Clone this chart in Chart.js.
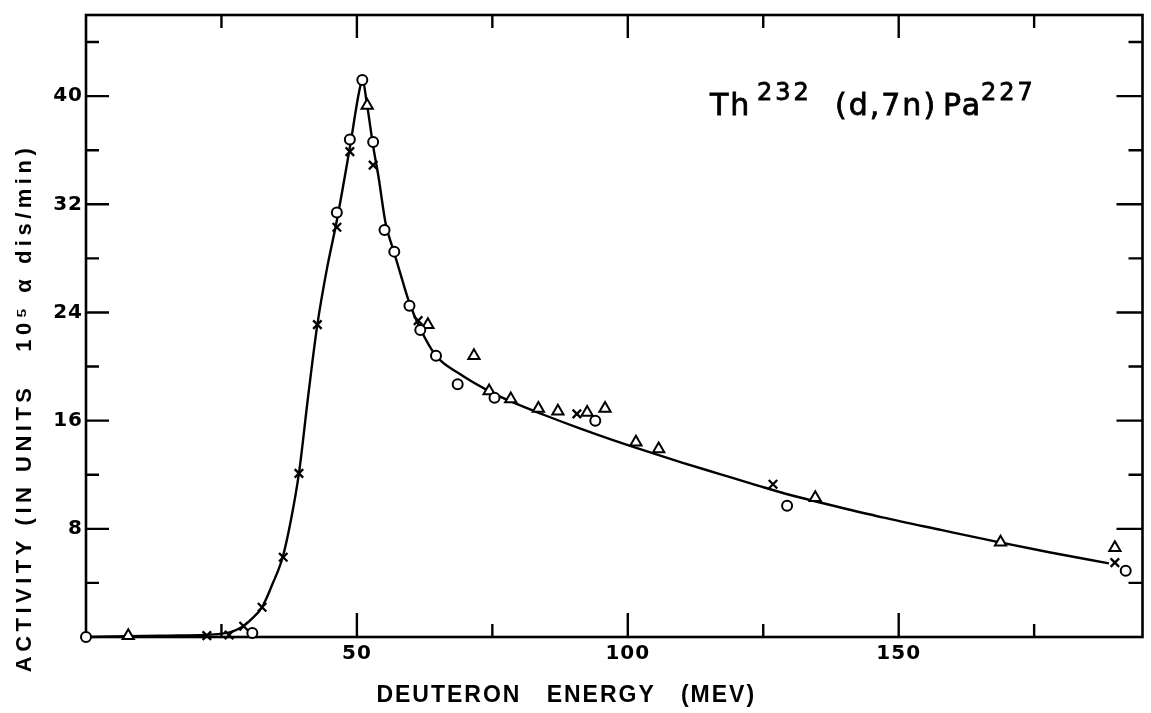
<!DOCTYPE html>
<html>
<head>
<meta charset="utf-8">
<script src="https://cdn.jsdelivr.net/npm/chart.js@4.4.0/dist/chart.umd.min.js"></script>
<style>
html,body{margin:0;padding:0;background:#fff;}
canvas{display:block;}
</style>
</head>
<body>
<canvas id="c" width="1151" height="713"></canvas>
<script>
// ---- data (deuteron energy in MeV, activity in 10^5 alpha dis/min) ----
const circleE = [0, 30.7, 46.3, 48.7, 51.0, 53.0, 55.1, 56.9, 59.7, 61.7, 64.6, 68.6, 75.4, 94.0, 129.4, 191.9];
const circleA = [0, 0.3, 31.4, 36.8, 41.2, 36.6, 30.1, 28.5, 24.5, 22.7, 20.8, 18.7, 17.7, 16.0, 9.7, 4.9];

const crossE = [22.3, 26.4, 29.1, 32.5, 36.4, 39.3, 42.7, 46.3, 48.7, 53.0, 61.3, 90.6, 126.8, 189.9];
const crossA = [0.1, 0.15, 0.8, 2.2, 5.9, 12.1, 23.1, 30.3, 35.9, 34.9, 23.4, 16.5, 11.3, 5.5];

const triE = [7.8, 51.9, 63.1, 71.6, 74.4, 78.4, 83.5, 87.1, 92.5, 95.8, 101.5, 105.7, 134.6, 168.8, 189.9];
const triA = [0.1, 39.3, 23.1, 20.8, 18.2, 17.6, 16.9, 16.7, 16.6, 16.9, 14.4, 13.9, 10.3, 7.0, 6.6];

const curveE = [0, 7.8, 15, 22, 25, 27, 29, 30.5, 32.5, 34.4, 36.3, 37.8, 39.3, 41, 42.7, 44.5, 46.3, 48.7, 50.4, 51, 51.9, 53.0, 54.0, 55.3, 56.9, 58.3, 59.7, 61.7, 64.6, 68.8, 74.3, 78.5, 84.7, 91, 97, 103, 110, 117, 124, 130, 137, 147, 158, 168, 178, 188.8];
const curveA = [0, 0.05, 0.1, 0.15, 0.25, 0.4, 0.8, 1.3, 2.2, 3.9, 5.9, 8.6, 12.1, 17.8, 23.1, 27.3, 30.8, 36.2, 40.3, 41.2, 39.3, 36.3, 34.0, 30.6, 28.4, 26.5, 24.7, 22.8, 20.8, 19.5, 18.2, 17.4, 16.4, 15.45, 14.6, 13.8, 12.9, 12.05, 11.2, 10.5, 9.8, 8.85, 7.9, 7.05, 6.25, 5.45];

const xTickLabels = [50, 100, 150];
const xMinorTicks = [25, 75, 125, 175];
const yTickLabels = [8, 16, 24, 32, 40];
const yMinorTicks = [4, 12, 20, 28, 36, 44];

const xTitle = 'DEUTERON   ENERGY   (MEV)';
const yTitle = 'ACTIVITY (IN UNITS   10\u2075 \u03B1 dis/min)';
const reactionParts = [
  {text: 'Th', sup: false, dx: 624},
  {text: '232', sup: true, dx: 671},
  {text: '(d,7n)', sup: false, dx: 749},
  {text: 'Pa', sup: false, dx: 857},
  {text: '227', sup: true, dx: 895}
];

const pts = (xs, ys) => xs.map((v, i) => ({x: v, y: ys[i]}));

// spacing / offsets for the library-drawn axis titles and labels
const spacingPlugin = {
  id: 'spacing',
  afterLayout(chart) {
    const cfg = {
      x: {title: '2px', labels: '1px', dx: -48, dy: 0},
      y: {title: '4.5px', labels: '1px', dx: 0, dy: 82}
    };
    for (const id of ['x', 'y']) {
      const s = chart.scales[id];
      if (!s || s._wrapped) continue;
      s._wrapped = true;
      const c = cfg[id];
      const oT = s.drawTitle.bind(s);
      const oL = s.drawLabels.bind(s);
      s.drawTitle = function (...args) {
        const ctx = this.ctx; ctx.save();
        ctx.letterSpacing = c.title;
        ctx.translate(c.dx, c.dy);
        oT(...args); ctx.restore();
      };
      s.drawLabels = function (...args) {
        const ctx = this.ctx; ctx.save();
        ctx.letterSpacing = c.labels;
        oL(...args); ctx.restore();
      };
    }
  }
};

const framePlugin = {
  id: 'frame',
  beforeDatasetsDraw(chart) {
    const {ctx, chartArea: a, scales: {x, y}} = chart;
    ctx.save();
    ctx.strokeStyle = '#000';
    ctx.lineWidth = 2.6;
    ctx.lineCap = 'square';
    ctx.strokeRect(a.left, a.top, a.right - a.left, a.bottom - a.top);
    ctx.beginPath();
    ctx.lineCap = 'butt';
    ctx.lineWidth = 2.4;
    const xt = (vals, lenB, lenT) => vals.forEach(v => {
      const p = x.getPixelForValue(v);
      ctx.moveTo(p, a.bottom); ctx.lineTo(p, a.bottom - lenB);
      ctx.moveTo(p, a.top); ctx.lineTo(p, a.top + lenT);
    });
    const yt = (vals, lenL, lenR) => vals.forEach(v => {
      const p = y.getPixelForValue(v);
      ctx.moveTo(a.left, p); ctx.lineTo(a.left + lenL, p);
      ctx.moveTo(a.right, p); ctx.lineTo(a.right - lenR, p);
    });
    xt(xTickLabels, 24, 23);
    xt(xMinorTicks, 13, 13);
    yt(yTickLabels, 23, 26);
    yt(yMinorTicks, 13, 14);
    ctx.stroke();

    // reaction label
    ctx.fillStyle = '#000';
    ctx.strokeStyle = '#000';
    ctx.lineWidth = 0.8;
    ctx.textBaseline = 'alphabetic';
    ctx.textAlign = 'left';
    for (const p of reactionParts) {
      let yy;
      if (p.sup) {
        ctx.font = '24px "DejaVu Sans"';
        ctx.letterSpacing = '3px';
        yy = 100;
      } else {
        ctx.font = '30px "DejaVu Sans"';
        ctx.letterSpacing = '2px';
        yy = 115;
      }
      ctx.fillText(p.text, a.left + p.dx, yy);
      ctx.strokeText(p.text, a.left + p.dx, yy);
    }
    ctx.restore();
  }
};

new Chart(document.getElementById('c'), {
  type: 'scatter',
  data: {
    datasets: [
      {data: pts(curveE, curveA), showLine: true, pointRadius: 0, borderColor: '#000', borderWidth: 2.4,
       cubicInterpolationMode: 'monotone', fill: false, order: 10, clip: false},
      {data: pts(circleE, circleA), pointStyle: 'circle', pointRadius: 5, borderWidth: 2,
       borderColor: '#000', backgroundColor: '#fff', order: 1, clip: false},
      {data: pts(crossE, crossA), pointStyle: 'crossRot', pointRadius: 6, borderWidth: 2.3,
       borderColor: '#000', backgroundColor: '#000', order: 2, clip: false},
      {data: pts(triE, triA), pointStyle: 'triangle', pointRadius: 6.5, borderWidth: 2,
       borderColor: '#000', backgroundColor: '#fff', order: 3, clip: false}
    ]
  },
  options: {
    responsive: false,
    animation: false,
    events: [],
    layout: {padding: {left: 0, right: 6, top: 10, bottom: 0}},
    plugins: {legend: {display: false}, tooltip: {enabled: false}},
    scales: {
      x: {
        type: 'linear', position: 'bottom', min: 0, max: 195,
        afterBuildTicks: s => { s.ticks = xTickLabels.map(v => ({value: v})); },
        afterFit: s => { s.height = 76; },
        grid: {display: false, drawTicks: false},
        border: {display: false},
        ticks: {padding: 5, autoSkip: false, maxRotation: 0, color: '#000',
                font: {family: 'DejaVu Sans', weight: 'bold', size: 20}},
        title: {display: true, text: xTitle, color: '#000',
                font: {family: 'Liberation Sans', weight: 'bold', size: 23},
                padding: {top: 0, bottom: 4}}
      },
      y: {
        type: 'linear', position: 'left', min: 0, max: 46,
        afterBuildTicks: s => { s.ticks = yTickLabels.map(v => ({value: v})); },
        afterFit: s => { s.width = 86; },
        grid: {display: false, drawTicks: false},
        border: {display: false},
        ticks: {padding: 3, autoSkip: false, color: '#000',
                font: {family: 'DejaVu Sans', weight: 'bold', size: 20}},
        title: {display: true, text: yTitle, color: '#000',
                font: {family: 'Liberation Sans', weight: 'bold', size: 22},
                padding: {top: 12, bottom: 0}}
      }
    }
  },
  plugins: [spacingPlugin, framePlugin]
});
</script>
</body>
</html>
